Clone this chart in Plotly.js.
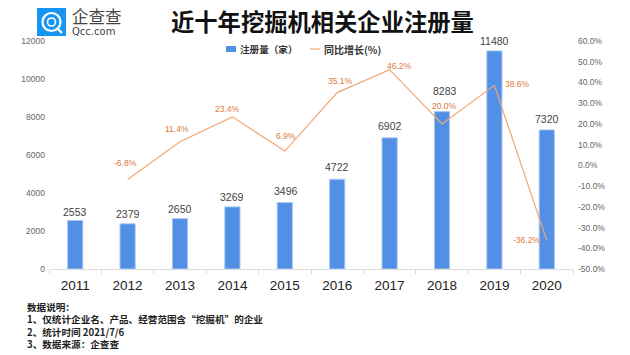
<!DOCTYPE html>
<html><head><meta charset="utf-8">
<script src="https://cdn.plot.ly/plotly-3.0.1.min.js"></script>
<style>html,body{margin:0;padding:0;background:#fff}</style></head>
<body><div id="c" style="width:630px;height:355px"></div>
<script>
const years=['2011','2012','2013','2014','2015','2016','2017','2018','2019','2020'];
const regs=[2553,2379,2650,3269,3496,4722,6902,8283,11480,7320];
const growth=[null,-6.8,11.4,23.4,6.9,35.1,46.2,20.0,38.6,-36.2];
const regDX=[0,0,0,0,1,0,0,3,0,0];
const regDY=[8.5,10,10,10,12,12,12,20.5,9.5,10.5];
const growthX=[0,-2,-3,-5,1,3.5,10,2,23,-20];
const growthY=[0,16,13,8,15,11.5,3.5,18,1,0];
const leftTicks=[0,2000,4000,6000,8000,10000,12000];
const rightTicks=[-50,-40,-30,-20,-10,0,10,20,30,40,50,60];
const footnotes=['数据说明：','1、仅统计企业名、产品、经营范围含“挖掘机”的企业','2、统计时间 2021/7/6','3、数据来源：企查查'];
const CN='"Noto Sans CJK SC","Microsoft YaHei",sans-serif';
const SANS='"Liberation Sans",sans-serif';
const orange='#d97a3e';
const L=49,R=573,T=41,B=269;
const px=x=>(x-L)/(R-L), py=y=>(B-y)/(B-T);
const anns=[];
regs.forEach((v,i)=>anns.push({x:i,y:v,xref:'x',yref:'y',text:String(v),showarrow:false,xshift:regDX[i],yshift:regDY[i],font:{family:SANS,size:10.5,color:'#444'}}));
growth.forEach((v,i)=>{if(v===null)return;anns.push({x:i,y:v,xref:'x',yref:'y2',text:v.toFixed(1)+'%',showarrow:false,xshift:growthX[i],yshift:growthY[i],font:{family:SANS,size:8.5,color:orange}})});
const paper=(x,y,text,size,color,family)=>({xref:'paper',yref:'paper',x:px(x),y:py(y),text,showarrow:false,xanchor:'left',yanchor:'middle',align:'left',font:{family:family||CN,size,color}});
anns.push(paper(169,21,'<b>近十年挖掘机相关企业注册量</b>',23.3,'#111'));
anns.push(paper(70,16,'企查查',16.5,'#444'));
anns.push(paper(70,32,'Qcc.com',10,'#444','"DejaVu Sans",sans-serif'));
anns.push(paper(25,325,footnotes.map(s=>'<b>'+s+'</b>').join('<br>'),9.6,'#222'));
anns.push(paper(238,49,'<b>注册量（家）</b>',9.6,'#333'));
anns.push(paper(322,49,'<b>同比增长(%)</b>',10,'#333'));
const data=[
 {type:'bar',x:years,y:regs,name:'注册量（家）',marker:{color:'#5190e4',line:{color:'#a8c8f0',width:1}},width:0.29,yaxis:'y',hoverinfo:'skip'},
 {type:'scatter',mode:'lines',x:years,y:growth,name:'同比增长(%)',line:{color:'#f2a775',width:1.2},yaxis:'y2',hoverinfo:'skip'}
];
const circle=(cx,cy,r,fill,line,w)=>({type:'circle',xref:'paper',yref:'paper',x0:px(cx-r),x1:px(cx+r),y0:py(cy+r),y1:py(cy-r),fillcolor:fill,line:{color:line,width:w}});
const layout={
 width:630,height:355,paper_bgcolor:'#fff',plot_bgcolor:'#fff',showlegend:false,
 margin:{l:L,r:630-R,t:T,b:355-B,autoexpand:false},
 xaxis:{type:'category',range:[-0.5,9.5],autorange:false,showgrid:false,showline:true,linecolor:'#dcdcdc',linewidth:1,ticks:'outside',ticklen:4,tickcolor:'#dcdcdc',tickangle:0,ticklabelstandoff:4,tickfont:{family:SANS,size:13.5,color:'#222'},tickson:'boundaries'},
 yaxis:{range:[0,12000],tickvals:leftTicks,ticktext:leftTicks.map(String),showgrid:false,zeroline:false,showline:false,ticks:'',ticklabelstandoff:3,tickfont:{family:SANS,size:8.5,color:'#666'}},
 yaxis2:{overlaying:'y',side:'right',range:[-50,60],tickvals:rightTicks,ticktext:rightTicks.map(v=>v.toFixed(1)+'%'),showgrid:false,zeroline:false,showline:false,ticks:'',ticklabelstandoff:4,tickfont:{family:SANS,size:8.5,color:'#666'}},
 annotations:anns,
 shapes:[
  {type:'rect',xref:'paper',yref:'paper',x0:px(38),x1:px(65),y0:py(35),y1:py(9),fillcolor:'#1795f3',line:{color:'#1795f3',width:2}},
  circle(51.5,22,9,'rgba(0,0,0,0)','#fff',2.2),
  circle(51.5,22,4,'rgba(0,0,0,0)','#fff',1.6),
  {type:'line',xref:'paper',yref:'paper',x0:px(57),x1:px(62),y0:py(28),y1:py(33),line:{color:'#fff',width:2.2}},
  {type:'rect',xref:'paper',yref:'paper',x0:px(226),x1:px(236),y0:py(52),y1:py(46),fillcolor:'#5190e4',line:{width:0}},
  {type:'line',xref:'paper',yref:'paper',x0:px(310),x1:px(320),y0:py(49),y1:py(49),line:{color:'#f2a775',width:1.2}}
 ]
};
Plotly.newPlot('c',data,layout,{displayModeBar:false,staticPlot:true});
</script></body></html>
